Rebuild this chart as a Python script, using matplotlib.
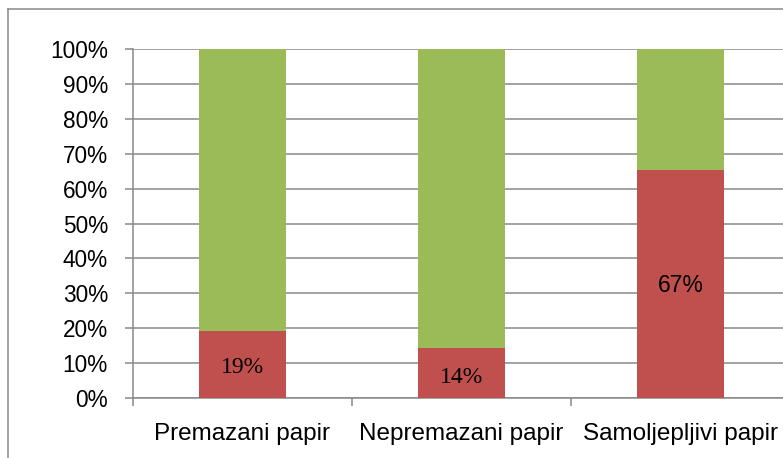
import matplotlib
matplotlib.use('Agg')
import matplotlib.pyplot as plt
from matplotlib.lines import Line2D

# 数据
categories = ['Premazani papir', 'Nepremazani papir', 'Samoljepljivi papir']
red_values = [19.2, 14.3, 65.3]
green_values = [100 - v for v in red_values]
red_labels = ['19%', '14%', '67%']
yticks = list(range(0, 101, 10))

RED = '#C0504D'
GREEN = '#9BBB59'
GRID = '#898989'

W, H = 783, 458
fig = plt.figure(figsize=(W / 100, H / 100), dpi=100)

# 坐标区: x 133..790 px, y 49..398 px
ax = fig.add_axes([133 / W, (H - 398) / H, 657 / W, 349 / H])
x = list(range(len(categories)))
ax.bar(x, red_values, width=0.4, color=RED, zorder=3)
ax.bar(x, green_values, width=0.4, bottom=red_values, color=GREEN, zorder=3)

ax.set_xlim(-0.5, 2.5)
ax.set_ylim(0, 100)
ax.set_yticks(yticks)
ax.set_yticklabels([f'{t}%' for t in yticks], fontsize=16.3, family='Liberation Sans')
ax.yaxis.grid(True, color=GRID, linewidth=1.1, zorder=0)
ax.tick_params(axis='y', length=6, width=1.1, color=GRID, pad=12)

ax.set_xticks(x)
ax.set_xticklabels(categories, fontsize=17.5, family='Liberation Sans')
ax.tick_params(axis='x', which='major', length=0, pad=18)
ax.set_xticks([-0.5, 0.5, 1.5, 2.5], minor=True)
ax.tick_params(axis='x', which='minor', length=6, width=1.1, color=GRID)

for side in ['top', 'right']:
    ax.spines[side].set_visible(False)
for side in ['left', 'bottom']:
    ax.spines[side].set_color(GRID)
    ax.spines[side].set_linewidth(1.1)

# 数据标签
label_y = [8.8, 6.0, 32.3]
for i, (lab, ly) in enumerate(zip(red_labels, label_y)):
    if i < 2:
        ax.text(i, ly, lab, ha='center', va='center', fontsize=17,
                family='Liberation Serif', color='black', zorder=4)
    else:
        ax.text(i, ly, lab, ha='center', va='center', fontsize=16.5,
                family='Liberation Sans', color='black', zorder=4)

# 外框
fig.add_artist(Line2D([8 / W, 8 / W], [0, (H - 9) / H], color=GRID, linewidth=1.1))
fig.add_artist(Line2D([8 / W, 1], [(H - 9) / H, (H - 9) / H], color=GRID, linewidth=1.1))

fig.savefig('out.png', dpi=100)
